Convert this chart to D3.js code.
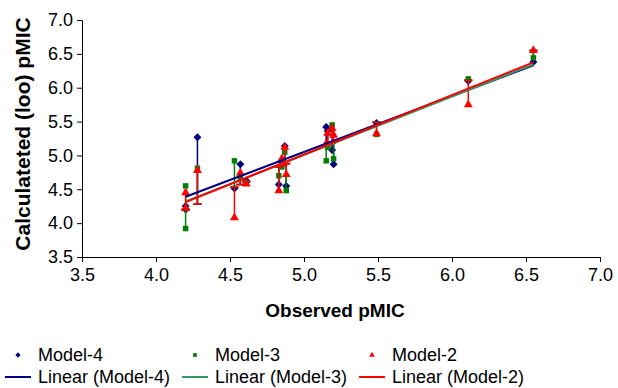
<!DOCTYPE html>
<html>
<head>
<meta charset="utf-8">
<script src="https://cdn.jsdelivr.net/npm/d3@7"></script>
<style>
  body { margin: 0; background: #fff; }
  text { font-family: "Liberation Sans", Arial, sans-serif; fill: #000; }
</style>
</head>
<body>
<div id="chart"></div>
<script>
// observed pMIC for each compound
const observed = [4.20, 4.20, 4.28, 4.53, 4.57, 4.61, 4.83, 4.85, 4.87, 4.88, 5.15, 5.16, 5.19, 5.20, 5.49, 6.11, 6.55];
// calculated (loo) pMIC per model
const model4 = [4.25, 4.20, 5.27, 4.51, 4.87, 4.63, 4.57, 4.90, 5.14, 4.55, 5.42, 5.36, 5.08, 4.87, 5.48, 6.10, 6.38];
const model3 = [4.55, 3.92, 4.81, 4.92, 4.68, 4.60, 4.70, 4.83, 5.05, 4.48, 4.92, 5.12, 5.45, 4.95, 5.31, 6.13, 6.44];
const model2 = [4.45, 4.22, 4.78, 4.08, 4.74, 4.58, 4.48, 4.95, 5.12, 4.72, 5.17, 5.33, 5.40, 5.30, 5.32, 5.75, 6.55];

const xTicks = [3.5, 4.0, 4.5, 5.0, 5.5, 6.0, 6.5, 7.0];
const yTicks = [3.5, 4.0, 4.5, 5.0, 5.5, 6.0, 6.5, 7.0];

// diamond as a square turned 45 degrees (Excel style)
const diamond = {
  draw(ctx, size) {
    const r = Math.sqrt(size / 2);
    ctx.moveTo(0, -r); ctx.lineTo(r, 0); ctx.lineTo(0, r); ctx.lineTo(-r, 0); ctx.closePath();
  }
};

const series = [
  { name: 'Model-4', values: model4, color: '#000080', line: '#000080', symbol: diamond, size: 32 },
  { name: 'Model-3', values: model3, color: '#008000', line: '#339966', symbol: d3.symbolSquare, size: 30 },
  { name: 'Model-2', values: model2, color: '#ff0000', line: '#ff0000', symbol: d3.symbolTriangle, size: 34 }
];

const width = 618, height = 388;
const margin = { left: 82, right: 18, top: 20, bottom: 131 };

const svg = d3.select('#chart').append('svg')
  .attr('width', width)
  .attr('height', height);

const x = d3.scaleLinear().domain([3.5, 7.0]).range([margin.left, width - margin.right]);
const y = d3.scaleLinear().domain([3.5, 7.0]).range([height - margin.bottom, margin.top]);

// axes
svg.append('g')
  .attr('transform', `translate(0,${y(3.5)})`)
  .call(d3.axisBottom(x).tickValues(xTicks).tickFormat(d3.format('.1f')).tickSizeOuter(0).tickSize(5).tickPadding(6))
  .call(g => g.selectAll('text').style('font-size', '18px'))
  .call(g => g.selectAll('line,path').attr('stroke', '#000'));

svg.append('g')
  .attr('transform', `translate(${x(3.5)},0)`)
  .call(d3.axisLeft(y).tickValues(yTicks).tickFormat(d3.format('.1f')).tickSizeOuter(0).tickSize(5).tickPadding(4))
  .call(g => g.selectAll('text').style('font-size', '18px'))
  .call(g => g.selectAll('line,path').attr('stroke', '#000'));

// axis titles
svg.append('text')
  .attr('x', 335).attr('y', 317)
  .attr('text-anchor', 'middle')
  .style('font-size', '19px').style('font-weight', 'bold')
  .text('Observed pMIC');

svg.append('text')
  .attr('transform', `translate(30,134) rotate(-90)`)
  .attr('text-anchor', 'middle')
  .style('font-size', '21px').style('font-weight', 'bold')
  .text('Calculateted (loo) pMIC');

// least squares fit
function fit(xs, ys) {
  const mx = d3.mean(xs), my = d3.mean(ys);
  let sxy = 0, sxx = 0;
  xs.forEach((v, i) => { sxy += (v - mx) * (ys[i] - my); sxx += (v - mx) * (v - mx); });
  const b = sxy / sxx;
  return { a: my - b * mx, b: b };
}

const xMin = d3.min(observed), xMax = d3.max(observed);

// error bars + markers
series.forEach(s => {
  const g = svg.append('g');
  const pts = observed.map((o, i) => ({ obs: o, calc: s.values[i] }));

  g.selectAll('line.bar')
    .data(pts)
    .join('line')
    .attr('class', 'bar')
    .attr('x1', d => x(d.obs)).attr('x2', d => x(d.obs))
    .attr('y1', d => y(d.calc)).attr('y2', d => y(d.obs))
    .attr('stroke', s.color).attr('stroke-width', 1.5);

  g.selectAll('line.cap')
    .data(pts)
    .join('line')
    .attr('class', 'cap')
    .attr('x1', d => x(d.obs) - 4).attr('x2', d => x(d.obs) + 4)
    .attr('y1', d => y(d.obs)).attr('y2', d => y(d.obs))
    .attr('stroke', s.color).attr('stroke-width', 1.5);

  g.selectAll('path')
    .data(pts)
    .join('path')
    .attr('transform', d => `translate(${x(d.obs)},${y(d.calc)})`)
    .attr('d', d3.symbol().type(s.symbol).size(s.size))
    .attr('fill', s.color);
});

// trend lines
series.forEach(s => {
  const f = fit(observed, s.values);
  svg.append('line')
    .attr('x1', x(xMin)).attr('y1', y(f.a + f.b * xMin))
    .attr('x2', x(xMax)).attr('y2', y(f.a + f.b * xMax))
    .attr('stroke', s.line).attr('stroke-width', 2);
});

// legend
const legendX = [18, 195, 372];
series.forEach((s, i) => {
  const lx = legendX[i];
  svg.append('path')
    .attr('transform', `translate(${lx},355)`)
    .attr('d', d3.symbol().type(s.symbol).size(14))
    .attr('fill', s.color);
  svg.append('text')
    .attr('x', lx + 20).attr('y', 361)
    .style('font-size', '18px')
    .text(s.name);
  svg.append('line')
    .attr('x1', lx - 13).attr('x2', lx + 13)
    .attr('y1', 377).attr('y2', 377)
    .attr('stroke', s.line).attr('stroke-width', 2);
  svg.append('text')
    .attr('x', lx + 20).attr('y', 383)
    .style('font-size', '18px')
    .text(`Linear (${s.name})`);
});
</script>
</body>
</html>
